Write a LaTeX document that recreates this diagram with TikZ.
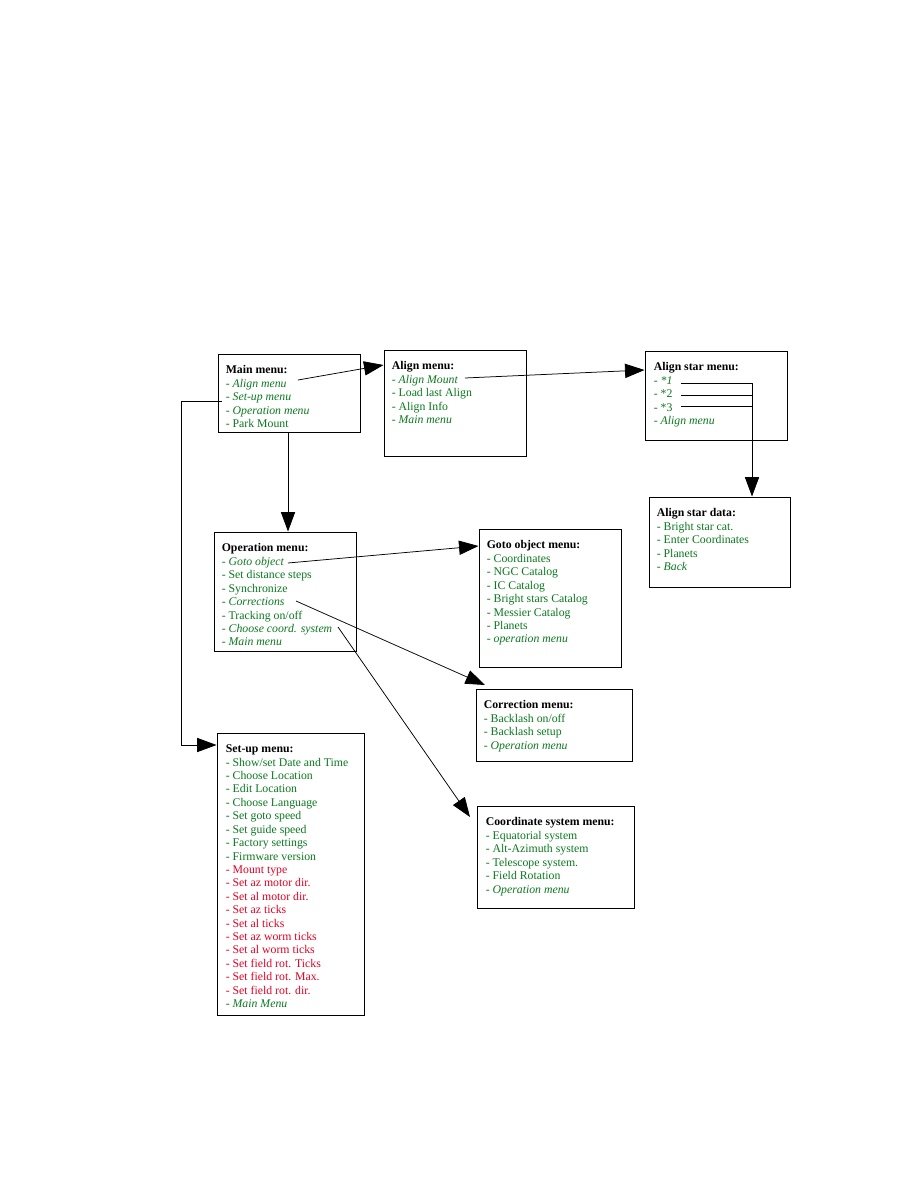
\documentclass[tikz,border=0pt]{standalone}
\usepackage{fontspec}
\setmainfont{Liberation Serif}
\usetikzlibrary{arrows.meta,fit,calc}
\definecolor{tgreen}{RGB}{10,120,30}
\definecolor{tred}{RGB}{225,0,35}
\newcommand{\gi}[1]{\textcolor{tgreen}{- \textit{#1}}}
\newcommand{\gu}[1]{\textcolor{tgreen}{- #1}}
\newcommand{\ru}[1]{\textcolor{tred}{- #1}}
\newcommand{\ttl}[1]{\textbf{#1}}
\tikzset{
  menubox/.style={draw=black, line width=0.65pt, inner sep=0pt},
  menutext/.style={anchor=north west, inner sep=0pt, align=left,
    font=\fontsize{7.85pt}{8.95pt}\selectfont},
  link/.style={draw=black, line width=0.5pt},
  arrowlink/.style={link, -{Triangle[length=13pt,width=9.5pt]}},
}
\begin{document}
\begin{tikzpicture}[x=0.6667pt,y=-0.6667pt]
\useasboundingbox (0,0) rectangle (918,1188);
% boxes
\node[menubox, fit={(218,354) (360,432)}] (main) {};
\node[menubox, fit={(384,350) (526,456)}] (align) {};
\node[menubox, fit={(645,351) (787,440)}] (star) {};
\node[menubox, fit={(649,497) (790,587)}] (data) {};
\node[menubox, fit={(214,532) (356,651)}] (oper) {};
\node[menubox, fit={(479,529) (621,667)}] (goto) {};
\node[menubox, fit={(476,689) (632,761)}] (corr) {};
\node[menubox, fit={(217,733) (364,1015)}] (setup) {};
\node[menubox, fit={(477,806) (634,908)}] (coord) {};
% texts
\node[menutext] (maint) at ($(main.north west)+(8,12)$) {\ttl{Main menu:}\\ \gi{Align menu}\\ \gi{Set-up menu}\\ \gi{Operation menu}\\ \gu{Park Mount}};
\node[menutext] (alignt) at ($(align.north west)+(8,12)$) {\ttl{Align menu:}\\ \gi{Align Mount}\\ \gu{Load last Align}\\ \gu{Align Info}\\ \gi{Main menu}};
\node[menutext] (start) at ($(star.north west)+(9,12)$) {\ttl{Align star menu:}\\ \gi{*1}\\ \gu{*2}\\ \gu{*3}\\ \gi{Align menu}};
\node[menutext] (datat) at ($(data.north west)+(8,12)$) {\ttl{Align star data:}\\ \gu{Bright star cat.}\\ \gu{Enter Coordinates}\\ \gu{Planets}\\ \gi{Back}};
\node[menutext] (opert) at ($(oper.north west)+(8,12)$) {\ttl{Operation menu:}\\ \gi{Goto object}\\ \gu{Set distance steps}\\ \gu{Synchronize}\\ \gi{Corrections}\\ \gu{Tracking on/off}\\ \gi{Choose coord. system}\\ \gi{Main menu}};
\node[menutext] (gotot) at ($(goto.north west)+(8,12)$) {\ttl{Goto object menu:}\\ \gu{Coordinates}\\ \gu{NGC Catalog}\\ \gu{IC Catalog}\\ \gu{Bright stars Catalog}\\ \gu{Messier Catalog}\\ \gu{Planets}\\ \gi{operation menu}};
\node[menutext] (corrt) at ($(corr.north west)+(8,12)$) {\ttl{Correction menu:}\\ \gu{Backlash on/off}\\ \gu{Backlash setup}\\ \gi{Operation menu}};
\node[menutext] (setupt) at ($(setup.north west)+(9,12)$) {\ttl{Set-up menu:}\\ \gu{Show/set Date and Time}\\ \gu{Choose Location}\\ \gu{Edit Location}\\ \gu{Choose Language}\\ \gu{Set goto speed}\\ \gu{Set guide speed}\\ \gu{Factory settings}\\ \gu{Firmware version}\\ \ru{Mount type}\\ \ru{Set az motor dir.}\\ \ru{Set al motor dir.}\\ \ru{Set az ticks}\\ \ru{Set al ticks}\\ \ru{Set az worm ticks}\\ \ru{Set al worm ticks}\\ \ru{Set field rot. Ticks}\\ \ru{Set field rot. Max.}\\ \ru{Set field rot. dir.}\\ \gi{Main Menu}};
\node[menutext] (coordt) at ($(coord.north west)+(9,12)$) {\ttl{Coordinate system menu:}\\ \gu{Equatorial system}\\ \gu{Alt-Azimuth system}\\ \gu{Telescope system.}\\ \gu{Field Rotation}\\ \gi{Operation menu}};
% connector start points
\coordinate (aAlign) at (298,380);
\coordinate (aMount) at (465,378);
\coordinate (s1) at (681,383);
\coordinate (s2) at (681,395);
\coordinate (s3) at (681,406);
\coordinate (sx1) at (752,383);
\coordinate (sx2) at (752,395);
\coordinate (sx3) at (752,406);
\coordinate (aSet) at (222,401);
\coordinate (setL) at (181,401);
\coordinate (setB) at (181,745);
\coordinate (aGoto) at (288,563);
\coordinate (aCorr) at (296,601);
\coordinate (aCoord) at (338,627);
\coordinate (corrTip) at (485,685);
\coordinate (coordTip) at (470,817);
% connectors
\draw[arrowlink] (aAlign) -- (align.west |- 0,365);
\draw[arrowlink] (aMount) -- (star.west |- 0,370);
\draw[link] (s1) -- (sx1);
\draw[link] (s2) -- (sx2);
\draw[link] (s3) -- (sx3);
\draw[arrowlink] (sx1) -- (sx1 |- data.north);
\draw[arrowlink] (main.south -| 288,0) -- (oper.north -| 288,0);
\draw[arrowlink] (aSet) -- (setL) -- (setB) -- (setup.west |- setB);
\draw[arrowlink] (aGoto) -- (goto.west |- 0,546);
\draw[arrowlink] (aCorr) -- (corrTip);
\draw[arrowlink] (aCoord) -- (coordTip);
\end{tikzpicture}
\end{document}
